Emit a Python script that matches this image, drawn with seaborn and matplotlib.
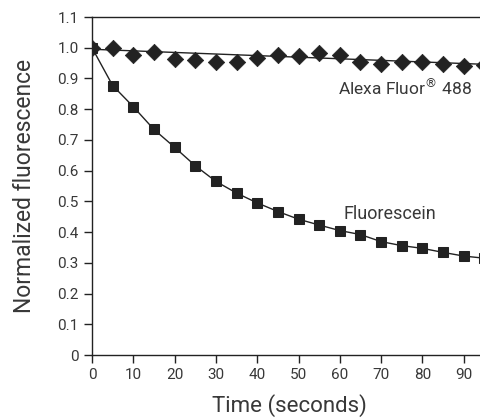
import numpy as np
import pandas as pd
import matplotlib
matplotlib.use("Agg")
import matplotlib.pyplot as plt
import seaborn as sns

# time points (seconds)
time = [0, 5, 10, 15, 20, 25, 30, 35, 40, 45, 50, 55, 60, 65, 70, 75, 80, 85, 90, 95]

# normalized fluorescence
alexa = [1.00, 1.00, 0.977, 0.986, 0.963, 0.961, 0.953, 0.955, 0.967, 0.976,
         0.972, 0.983, 0.976, 0.952, 0.946, 0.954, 0.955, 0.947, 0.941, 0.945]
fluorescein = [1.00, 0.877, 0.808, 0.734, 0.676, 0.616, 0.565, 0.527, 0.495, 0.467,
               0.442, 0.423, 0.405, 0.392, 0.369, 0.356, 0.347, 0.334, 0.322, 0.315]

# straight trend line drawn through the Alexa points
alexa_fit_x = [0, 95]
alexa_fit_y = [0.995, 0.946]

yticks = [0, 0.1, 0.2, 0.3, 0.4, 0.5, 0.6, 0.7, 0.8, 0.9, 1.0, 1.1]
yticklabels = ["0", "0.1", "0.2", "0.3", "0.4", "0.5", "0.6", "0.7", "0.8", "0.9", "1.0", "1.1"]
xticks = [0, 10, 20, 30, 40, 50, 60, 70, 80, 90]

sns.set_style("ticks")
plt.rcParams['font.family'] = ['Roboto', 'DejaVu Sans']
ink = "#222222"
txt = "#383838"

df = pd.DataFrame({"time": time, "alexa": alexa, "fluorescein": fluorescein})
fit = pd.DataFrame({"time": alexa_fit_x, "value": alexa_fit_y})

fig = plt.figure(figsize=(4.8, 4.19), dpi=100)
# axes run past the right edge of the figure, like the cropped original
ax = fig.add_axes([92 / 480, (419 - 355) / 419, 413 / 480, 338 / 419])

sns.lineplot(data=fit, x="time", y="value", ax=ax, color=ink, lw=1)
sns.lineplot(data=df, x="time", y="fluorescein", ax=ax, color=ink, lw=1,
             marker="s", markersize=7, markeredgecolor=ink, markerfacecolor=ink)
sns.scatterplot(data=df, x="time", y="alexa", ax=ax, color=ink, marker="D",
                s=70, edgecolor=ink, linewidth=0.5, zorder=5)

ax.set_xlim(0, 100)
ax.set_ylim(0, 1.1)
ax.set_yticks(yticks)
ax.set_yticklabels(yticklabels)
ax.set_xticks(xticks)

ax.text(92, 0.87, "Alexa Fluor$^{\u00ae}$ 488", ha="right", va="center", fontsize=12.5, color=txt)
ax.text(61, 0.46, "Fluorescein", ha="left", va="center", fontsize=13, color=txt)

ax.set_xlabel("Time (seconds)", fontsize=16, color=txt)
ax.set_ylabel("Normalized fluorescence", fontsize=16.5, color=txt)
ax.xaxis.label.set_va("center")
ax.yaxis.label.set_va("center")
ax.xaxis.set_label_coords((289 - 92) / 413, (355 - 406) / 338)
ax.yaxis.set_label_coords((25 - 92) / 413, 0.5)

for s in ["left", "bottom", "top"]:
    ax.spines[s].set_color(ink)
    ax.spines[s].set_linewidth(1)
ax.spines["right"].set_visible(False)
ax.tick_params(axis="both", colors=ink, labelcolor=txt, labelsize=11, length=6, width=1)

fig.savefig("out.png", dpi=100)
